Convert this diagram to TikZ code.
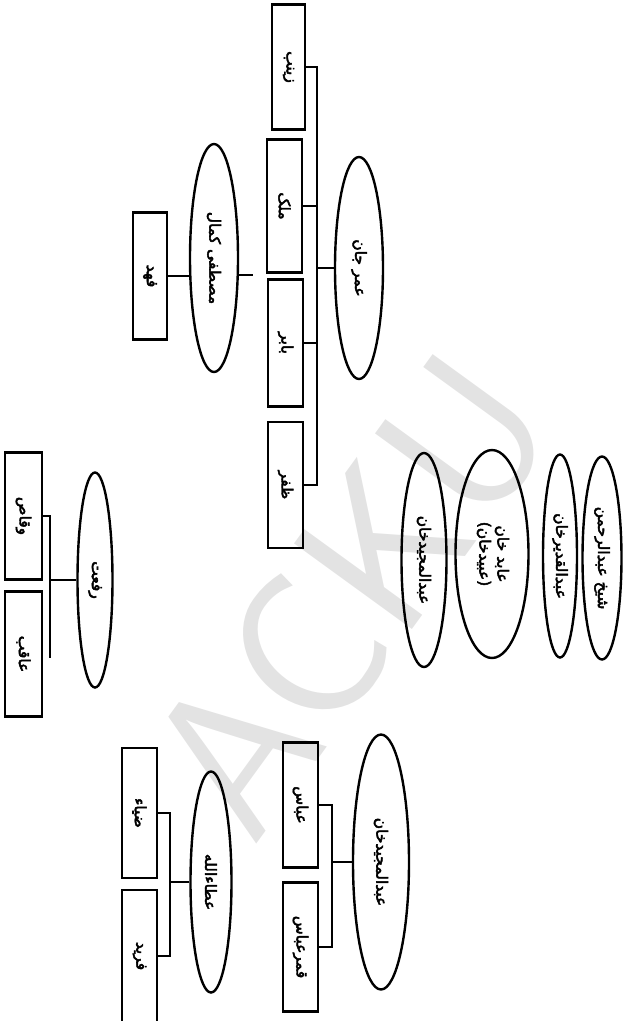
\documentclass[tikz,border=0pt]{standalone}
\usepackage{fontspec}
\usepackage{tikz}
\usetikzlibrary{shapes.geometric}
\TeXXeTstate=1
\newfontfamily\arabicfont[Script=Arabic, FakeBold=3]{DejaVu Sans}
\newcommand{\vname}[1]{\rotatebox{-90}{\arabicfont\beginR #1\endR}}

\begin{document}
\begin{tikzpicture}[x=1pt, y=-1pt,
    parent/.style={draw, ellipse, line width=2.4pt, inner sep=0pt, font=\fontsize{15.5}{18}\selectfont},
    child/.style={draw, rectangle, line width=2.1pt, inner sep=0pt, minimum width=35pt, font=\fontsize{15.5}{18}\selectfont},
    link/.style={line width=1.5pt}]
    \useasboundingbox (0,0) rectangle (623,1021);
    % watermark
        \node[rotate=54, text=black!11,
              font=\sffamily\fontsize{210}{210}\selectfont] (mark) at (350,595) {ACKU};

    % Add the parents
        \node[parent, minimum width=48pt, minimum height=222pt] (omar) at (359,268) {\vname{عمر جان}};
        \node[parent, minimum width=48pt, minimum height=228pt] (mustafa) at (214,258) {\vname{مصطفى کمال}};
        \node[parent, minimum width=35pt, minimum height=215pt] (rafat) at (95,580) {\vname{رفعت}};
        \node[parent, minimum width=41pt, minimum height=221pt] (ata) at (211,882) {\vname{عطاءالله}};
        \node[parent, minimum width=56pt, minimum height=255pt] (majid) at (381,862) {\vname{عبدالمجيدخان}};

    % the four on their own
        \node[parent, minimum width=45pt, minimum height=214pt] (majidkhan) at (424,560) {\vname{عبدالمجيدخان}};
        \node[parent, minimum width=73pt, minimum height=208pt] (abid) at (492,554)
              {\rotatebox{-90}{\arabicfont
               \begin{tabular}{c}\beginR عابد خان\endR\\ \beginR (عبيدخان)\endR\end{tabular}}};
        \node[parent, minimum width=34pt, minimum height=203pt] (qadir) at (560,556) {\vname{عبدالقديرخان}};
        \node[parent, minimum width=39pt, minimum height=203pt] (sheikh) at (602,558) {\vname{شيخ عبدالرحمن}};

    % Add the children
        \node[child, minimum width=33pt, minimum height=125pt] (zainab) at (288.5,67) {\vname{زينب}};
        \node[child, minimum height=133pt] (malik) at (284.5,206) {\vname{ملک}};
        \node[child, minimum height=127pt] (babar) at (285.5,343) {\vname{بابر}};
        \node[child, minimum height=126pt] (zafar) at (285.5,485) {\vname{ظفر}};
        \node[child, minimum width=34pt, minimum height=127pt] (fahad) at (150,276) {\vname{فهد}};
        \node[child, minimum width=37pt, minimum height=127pt] (waqas) at (23.5,516) {\vname{وقاص}};
        \node[child, minimum width=37pt, minimum height=125pt] (aqib) at (23.5,654) {\vname{عاقب}};
        \node[child, minimum height=130pt] (zia) at (139.5,813) {\vname{ضياء}};
        \node[child, minimum height=132pt] (farid) at (139.5,956) {\vname{فريد}};
        \node[child, minimum height=125pt] (abbas) at (300.5,805) {\vname{عباس}};
        \node[child, minimum height=129pt] (qamar) at (300.5,947) {\vname{قمرعباس}};

    % bus lines
        \coordinate (omarbus) at (317,268);
        \coordinate (rafatbus) at (50,580);
        \coordinate (atabus) at (170,882);
        \coordinate (majidbus) at (332,862);
        \coordinate (mtick) at (253,275);

        \draw[link] (omar) -- (omarbus);
        \draw[link] (zainab.east) -- (zainab.east -| omarbus) -- (zafar.east -| omarbus) -- (zafar.east);
        \draw[link] (malik.east) -- (malik.east -| omarbus);
        \draw[link] (babar.east) -- (babar.east -| omarbus);

        \draw[link] (fahad.east) -- (fahad.east -| mustafa.west);
        \draw[link] (mustafa.east |- mtick) -- (mtick);

        \draw[link] (rafat) -- (rafatbus);
        \draw[link] (waqas.east) -- (waqas.east -| rafatbus) -- ([yshift=-4pt]aqib.east -| rafatbus);

        \draw[link] (ata) -- (atabus);
        \draw[link] (zia.east) -- (zia.east -| atabus) -- (farid.east -| atabus) -- (farid.east);

        \draw[link] (majid) -- (majidbus);
        \draw[link] (abbas.east) -- (abbas.east -| majidbus) -- (qamar.east -| majidbus) -- (qamar.east);
\end{tikzpicture}
\end{document}
